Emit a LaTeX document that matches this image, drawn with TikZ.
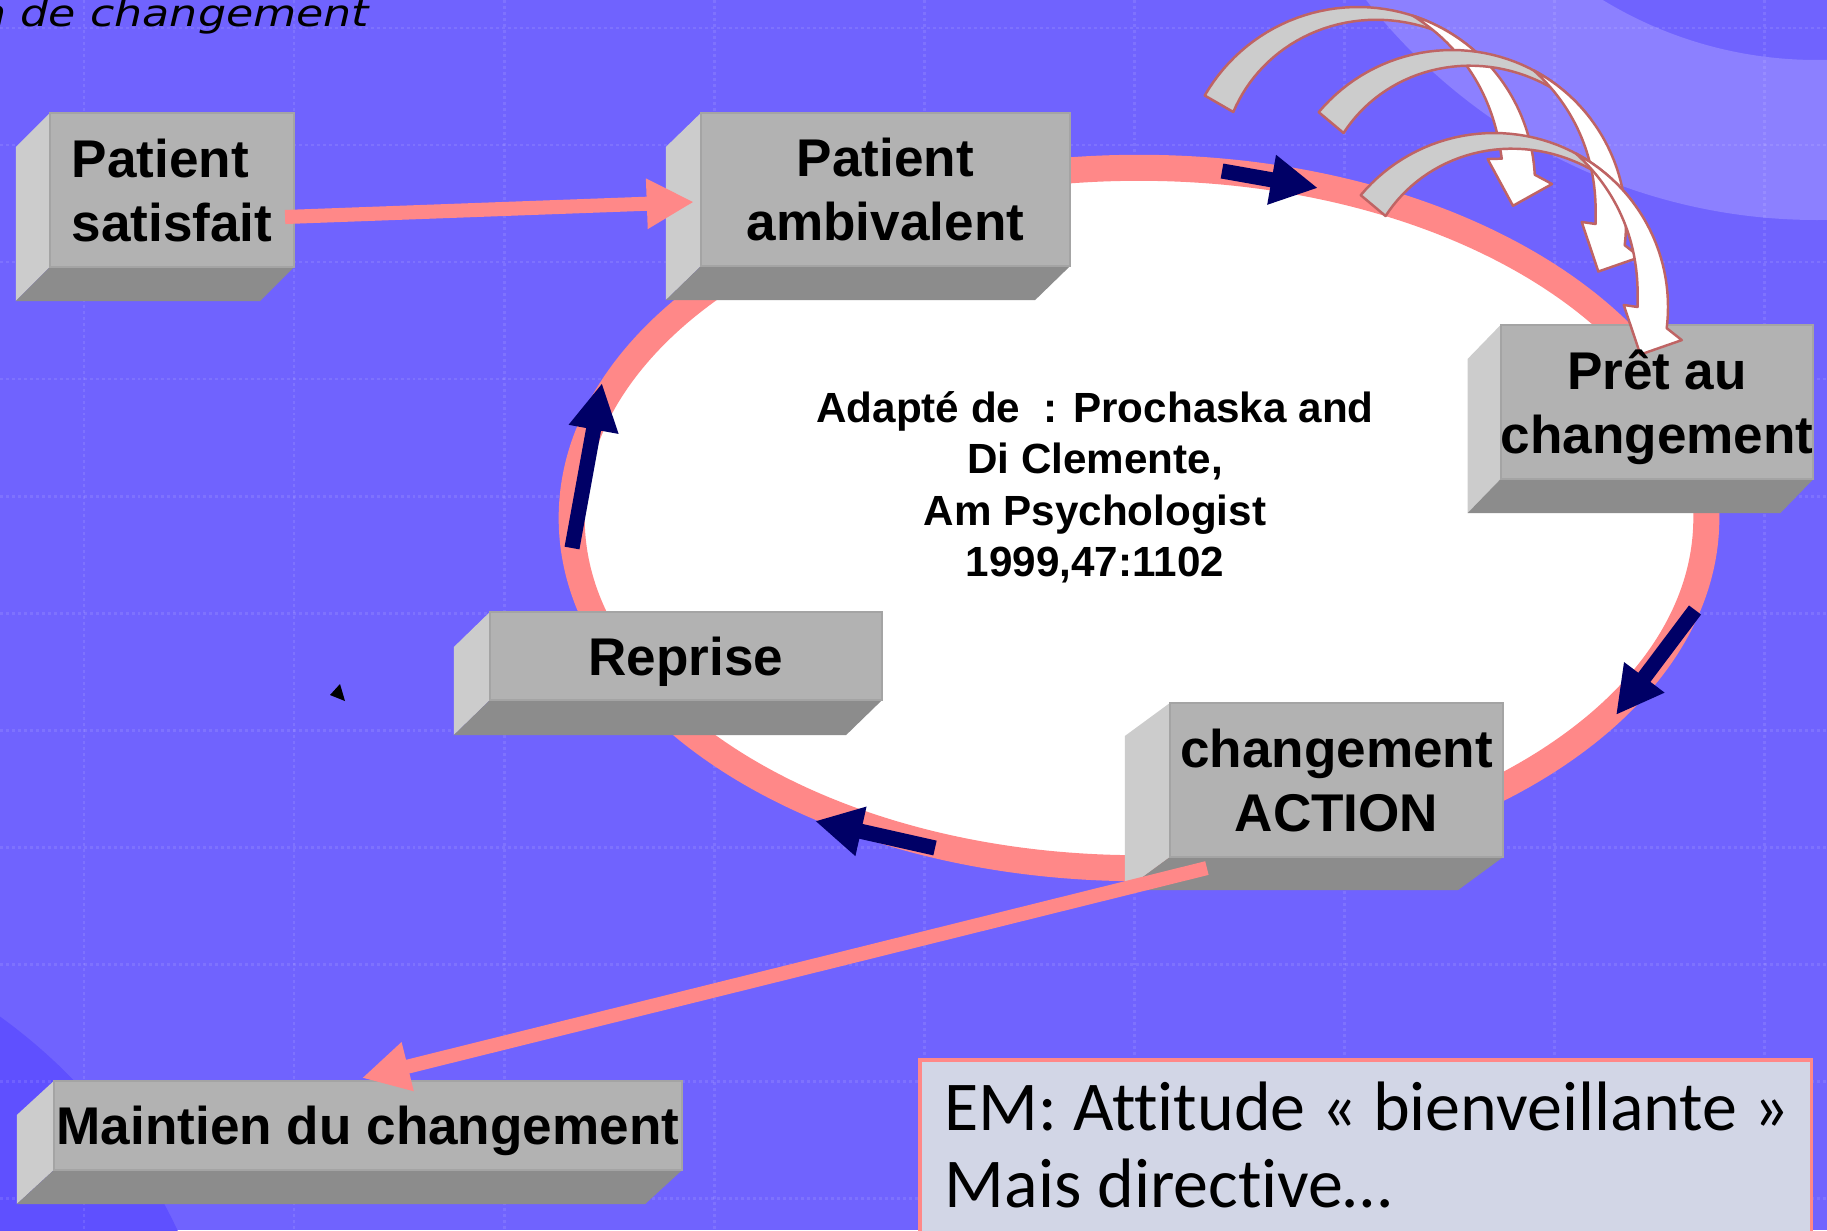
\documentclass[tikz,border=0pt]{standalone}
\usepackage{fontspec}
\usepackage{graphicx}
\setmainfont{Liberation Sans}
\newfontfamily\emfont{Carlito}[Ligatures=NoCommon]
\newfontfamily\headfont{DejaVu Sans}
\usetikzlibrary{arrows.meta,calc,shapes.geometric}

\pgfdeclarelayer{back}
\pgfdeclarelayer{mid}
\pgfsetlayers{back,mid,main}

\definecolor{bgblue}{HTML}{7063FE}
\definecolor{bandblue}{HTML}{8C80FF}
\definecolor{blobblue}{HTML}{5F50FF}
\definecolor{ringpink}{HTML}{FF8888}
\definecolor{navyblue}{HTML}{000066}
\definecolor{slabfront}{HTML}{B2B2B2}
\definecolor{slabside}{HTML}{CCCCCC}
\definecolor{slabbottom}{HTML}{8C8C8C}
\definecolor{slabedge}{HTML}{A4A4A4}
\definecolor{bendgray}{HTML}{CCCCCC}
\definecolor{bendline}{HTML}{BF6464}
\definecolor{embg}{HTML}{D2D6E6}

\tikzset{
  slab/.style={inner sep=0pt, outer sep=0pt, align=center, text depth=0pt,
    font=\fontsize{15.1pt}{18.2pt}\selectfont\bfseries},
  pinkarrow/.style={draw=ringpink, line width=4pt,
    -{Triangle[length=13.4pt,width=13.4pt]}},
  navyarrow/.style={draw=navyblue, line width=4.3pt,
    -{Triangle[length=13.4pt,width=13.4pt]}},
  gridline/.style={white, opacity=0.1, line width=0.85pt,
    dash pattern=on 0.85pt off 0.85pt},
  bendback/.style={fill=bendgray, draw=bendline, line width=0.7pt, line join=round},
  bendfront/.style={fill=white, draw=bendline, line width=0.7pt, line join=round},
  embox/.style={fill=embg, draw=ringpink, line width=1pt, inner sep=0pt, outer sep=0pt}
}

% faces of a bevelled slab behind node #1, depth offset (#2,#3)
\newcommand{\drawslab}[3]{%
  \fill[slabfront] (#1.south west) rectangle (#1.north east);
  \fill[slabside] (#1.north west) -- (#1.south west)
     -- ($(#1.south west)+(#2,#3)$) -- ($(#1.north west)+(#2,#3)$) -- cycle;
  \fill[slabbottom] (#1.south west) -- (#1.south east)
     -- ($(#1.south east)+(#2,#3)$) -- ($(#1.south west)+(#2,#3)$) -- cycle;
  \draw[slabedge, line width=0.6pt] (#1.south west) rectangle (#1.north east);
}

% curved ribbon arrow: centre (#1,#2), rotation #3, scale #4
\newcommand{\bentarrow}[4]{%
  \begin{scope}[shift={(#1,#2)}, rotate=#3, scale=#4]
    \filldraw[bendback]
      plot[domain=150:47, samples=40] (-\x:177)
      -- plot[domain=47:150, samples=40] (-\x:{177-(\x-47)*33/103}) -- cycle;
    \filldraw[bendfront]
      plot[domain=72:3, samples=40] (-\x:177)
      -- (0:194) -- (8:156.5) -- (-10.9:132)
      -- plot[domain=10:72, samples=40] (-\x:{146+31*((\x-10)/62)*sqrt((\x-10)/62)})
      -- cycle;
  \end{scope}}

\begin{document}
\begin{tikzpicture}[x=0.01cm, y=-0.01cm]
  \path[use as bounding box] (0,0) rectangle (1827,1230);

  % backdrop, bands, dotted grid, cycle ring
  \begin{pgfonlayer}{back}
    \begin{scope}
      \clip (0,0) rectangle (1827,1230);
      \fill[bgblue] (0,0) rectangle (1827,1230);
      \fill[bandblue, even odd rule] (1817,-352) circle[radius=572]
                                     (1817,-352) circle[radius=412];
      \fill[blobblue] (-324,1466) circle[radius=554];
      \foreach \y in {28,145,...,1198} \draw[gridline] (0,\y) -- (1827,\y);
      \foreach \x in {84,294,...,1764} \draw[gridline] (\x,0) -- (\x,1230);
      \node[ellipse, draw=ringpink, line width=7.4pt, fill=white,
            minimum width=11.34cm, minimum height=7cm, inner sep=0pt] (ring) at (1139,518) {};
    \end{scope}
  \end{pgfonlayer}

  \clip (0,0) rectangle (1827,1230);

  % title fragment
  \node[anchor=base west, inner sep=0pt,
        font=\headfont\itshape\fontsize{10.5pt}{12pt}\selectfont] (head) at (-22,27)
        {\scalebox{1.2}[1]{n de changement}};

  % stage boxes
  \node[slab, align=left, minimum width=2.44cm, minimum height=1.54cm] (sat) at (172,190) {Patient\\satisfait};
  \node[slab, minimum width=3.69cm, minimum height=1.53cm] (amb) at (885.5,189.5) {Patient\\ambivalent};
  \node[slab, minimum width=3.12cm, minimum height=1.54cm] (pret) at (1657,402) {Prêt au\\changement};
  \node[slab, minimum width=3.92cm, minimum height=0.88cm] (rep) at (686,656) {Reprise};
  \node[slab, minimum width=3.33cm, minimum height=1.54cm] (act) at (1336.5,780) {changement\\ACTION};
  \node[slab, minimum width=6.28cm, minimum height=0.89cm] (keep) at (368,1125.5) {Maintien du changement};

  \begin{pgfonlayer}{back}
    \drawslab{sat}{-34}{34}
    \drawslab{amb}{-35}{34}
    \drawslab{pret}{-33}{34}
    \drawslab{rep}{-36}{35}
    \drawslab{act}{-45}{33}
    \drawslab{keep}{-37}{34}
  \end{pgfonlayer}

  % ribbon arrows above the ready box
  \begin{pgfonlayer}{mid}
    \bentarrow{1358}{184}{0}{1}
    \bentarrow{1452}{224}{-10}{0.983}
    \bentarrow{1494}{307}{-10}{0.983}
  \end{pgfonlayer}

  % reference in the middle of the cycle
  \node[inner sep=0pt, align=center, text depth=0pt,
        font=\fontsize{12pt}{14.6pt}\selectfont\bfseries] (src) at (1095,484)
        {Adapté de~~: Prochaska and\\Di Clemente,\\Am Psychologist\\1999,47:1102};

  % transitions
  \draw[pinkarrow] ($(sat.east)+(-9,27)$) -- ($(amb.west)+(-7,12.5)$);
  \draw[pinkarrow] ($(act.south west)+(37,11)$) -- ($(keep.north)+(-6,-3)$);

  % direction marks on the cycle
  \coordinate (n1a) at (1222,171); \coordinate (n1b) at (1318,188);
  \coordinate (n2a) at (1695,610); \coordinate (n2b) at (1616,715);
  \coordinate (n3a) at (935,848);  \coordinate (n3b) at (815,821);
  \coordinate (n4a) at (572,548);  \coordinate (n4b) at (602,383);
  \draw[navyarrow] (n1a) -- (n1b);
  \draw[navyarrow] (n2a) -- (n2b);
  \draw[navyarrow] (n3a) -- (n3b);
  \draw[navyarrow] (n4a) -- (n4b);

  % stray tip
  \fill[black] (340,684) -- (330,695) -- (345,701) -- cycle;

  % note box
  \node[embox, anchor=north west, minimum width=8.91cm, minimum height=2.2cm] (em) at (920,1060) {};
  \node[anchor=base west, inner sep=0pt,
        font=\emfont\fontsize{19.9pt}{21.9pt}\selectfont] (emtext) at ($(em.north west)+(24,70)$)
        {\parbox[t]{9cm}{EM: Attitude « bienveillante »\\Mais directive…}};
\end{tikzpicture}
\end{document}
